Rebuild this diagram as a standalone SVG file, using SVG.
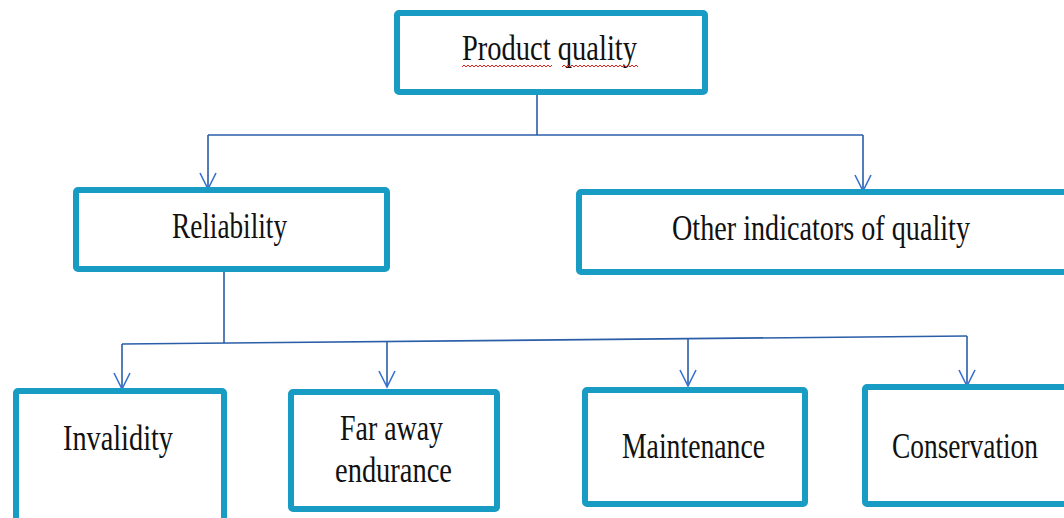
<svg xmlns="http://www.w3.org/2000/svg" width="1064" height="518" viewBox="0 0 1064 518">
<style>
.box{fill:#fff;stroke:#189cc4;stroke-width:6}
.lbl{font-family:"Liberation Serif","Times New Roman",serif;font-size:36px;fill:#111;text-anchor:middle}
.con{fill:none;stroke:#2a5ea8;stroke-width:1.6}
.wavy{fill:none;stroke:#e0221c;stroke-width:1}
</style>
<defs>
<marker id="arr" markerUnits="userSpaceOnUse" viewBox="-18 -10 20 20" refX="0" refY="0" markerWidth="20" markerHeight="20" orient="auto" overflow="visible">
<path d="M-16,-8 L0,0 L-16,8" fill="none" stroke="#3670d0" stroke-width="1.6"/>
</marker>
</defs>
<g id="connectors">
<path class="con" d="M537,95 V135"/>
<path class="con" d="M208,135 H863"/>
<path class="con" d="M208,135 V189" marker-end="url(#arr)"/>
<path class="con" d="M863,135 V191" marker-end="url(#arr)"/>
<path class="con" d="M224,272 V343"/>
<path class="con" d="M122,344 L967,336"/>
<path class="con" d="M122,344 V389" marker-end="url(#arr)"/>
<path class="con" d="M387,341.5 V387" marker-end="url(#arr)"/>
<path class="con" d="M688,338.6 V386" marker-end="url(#arr)"/>
<path class="con" d="M967,336 V386" marker-end="url(#arr)"/>
</g>
<g id="n-product">
<rect class="box" x="397" y="13" width="308" height="79" rx="2"/>
<text class="lbl" x="549.5" y="60" textLength="175" lengthAdjust="spacingAndGlyphs">Product quality</text>
<path class="wavy" d="M462,67 l2,-2 l2,2 l2,-2 l2,2 l2,-2 l2,2 l2,-2 l2,2 l2,-2 l2,2 l2,-2 l2,2 l2,-2 l2,2 l2,-2 l2,2 l2,-2 l2,2 l2,-2 l2,2 l2,-2 l2,2 l2,-2 l2,2 l2,-2 l2,2 l2,-2 l2,2 l2,-2 l2,2 l2,-2 l2,2 l2,-2 l2,2 l2,-2 l2,2 l2,-2 l2,2 l2,-2 l2,2 l2,-2 l2,2 l2,-2 l2,2 l2,-2"/>
<path class="wavy" d="M562,67 l2,-2 l2,2 l2,-2 l2,2 l2,-2 l2,2 l2,-2 l2,2 l2,-2 l2,2 l2,-2 l2,2 l2,-2 l2,2 l2,-2 l2,2 l2,-2 l2,2 l2,-2 l2,2 l2,-2 l2,2 l2,-2 l2,2 l2,-2 l2,2 l2,-2 l2,2 l2,-2 l2,2 l2,-2 l2,2 l2,-2 l2,2 l2,-2 l2,2 l2,-2 l2,2"/>
</g>
<g id="n-reliability">
<rect class="box" x="76" y="190" width="311" height="79" rx="2"/>
<text class="lbl" x="229.5" y="238" textLength="115" lengthAdjust="spacingAndGlyphs">Reliability</text>
</g>
<g id="n-other">
<rect class="box" x="579" y="192" width="495" height="80" rx="2"/>
<text class="lbl" x="821" y="240" textLength="298" lengthAdjust="spacingAndGlyphs">Other indicators of quality</text>
</g>
<g id="n-invalidity">
<rect class="box" x="16" y="391" width="208" height="140" rx="2"/>
<text class="lbl" x="118" y="450" textLength="110" lengthAdjust="spacingAndGlyphs">Invalidity</text>
</g>
<g id="n-faraway">
<rect class="box" x="291" y="392" width="206" height="117" rx="2"/>
<text class="lbl" x="391.5" y="440" textLength="103" lengthAdjust="spacingAndGlyphs">Far away</text>
<text class="lbl" x="393.5" y="482" textLength="117" lengthAdjust="spacingAndGlyphs">endurance</text>
</g>
<g id="n-maintenance">
<rect class="box" x="585" y="390" width="220" height="114" rx="2"/>
<text class="lbl" x="693.5" y="458" textLength="143" lengthAdjust="spacingAndGlyphs">Maintenance</text>
</g>
<g id="n-conservation">
<rect class="box" x="865" y="387" width="210" height="117" rx="2"/>
<text class="lbl" x="965" y="458" textLength="146" lengthAdjust="spacingAndGlyphs">Conservation</text>
</g>
</svg>
